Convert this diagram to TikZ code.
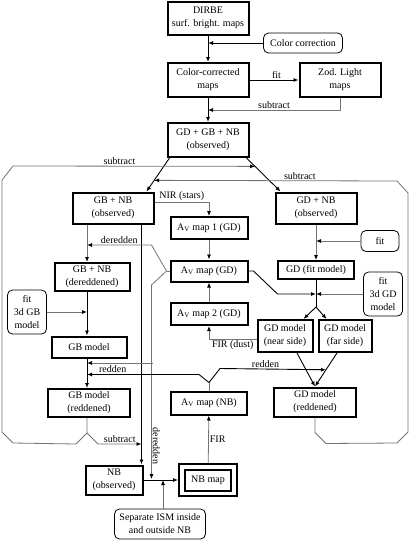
\documentclass[tikz,border=0pt]{standalone}
\usepackage{fontspec}
\setmainfont{Liberation Serif}
\usetikzlibrary{shapes,arrows.meta,calc}
\tikzstyle{block} = [draw, rectangle, line width=2pt, align=center, inner sep=1pt, font=\fontsize{10}{13}\selectfont]
\tikzstyle{note} = [draw, rectangle, rounded corners=5pt, line width=0.8pt, align=center, inner sep=1pt, font=\fontsize{10}{13}\selectfont]
\tikzstyle{flow} = [draw, line width=0.9pt]
\tikzstyle{thin} = [draw, black!55, line width=0.8pt]
\tikzstyle{lbl} = [inner sep=1pt, text=black, font=\fontsize{10}{12}\selectfont]
\newcommand*{\Av}{A\textsubscript{V}}

\begin{document}
\begin{tikzpicture}[x=1pt, y=-1pt, node distance=60pt, >={Latex[length=5pt,width=4pt,black]}]
  \useasboundingbox (0,0) rectangle (410,541);
  % top column
  \node [block, minimum width=81pt, minimum height=33pt] (dirbe) at (208,18) {DIRBE\\surf. bright. maps};
  \node [block, minimum width=81pt, minimum height=34pt, below of=dirbe, node distance=62pt] (ccmaps) {Color-corrected\\maps};
  \node [block, minimum width=81pt, minimum height=34pt, right of=ccmaps, node distance=132pt] (zod) {Zod. Light\\maps};
  \node [block, minimum width=81pt, minimum height=34pt, below of=ccmaps] (gdgbnb) {GD + GB + NB\\(observed)};
  \node [note, minimum width=79pt, minimum height=20pt] (colcor) at (303,43) {Color correction};

  % second level
  \node [block, minimum width=81pt, minimum height=31pt] (gbnb) at (113,208) {GB + NB\\(observed)};
  \node [block, minimum width=81pt, minimum height=31pt] (gdnb) at (316,208) {GD + NB\\(observed)};

  % A_V maps
  \node [block, minimum width=77pt, minimum height=22pt] (av1) at (209,228) {\Av{} map 1 (GD)};
  \node [block, minimum width=77pt, minimum height=21pt, below of=av1, node distance=43pt] (avgd) {\Av{} map (GD)};
  \node [block, minimum width=77pt, minimum height=22pt, below of=avgd, node distance=43pt] (av2) {\Av{} map 2 (GD)};
  \node [block, minimum width=76pt, minimum height=23pt] (avnb) at (209,403) {\Av{} map (NB)};

  % GB column
  \node [block, minimum width=75pt, minimum height=28pt] (gbnbd) at (92,277) {GB + NB\\(dereddened)};
  \node [block, minimum width=75pt, minimum height=21pt] (gbmod) at (89,347) {GB model};
  \node [block, minimum width=82pt, minimum height=28pt, below of=gbmod, node distance=56pt] (gbred) {GB model\\(reddened)};
  \node [note, minimum width=39pt, minimum height=44pt] (fitgb) at (27,312) {fit\\3d GB\\model};

  % GD column
  \node [block, minimum width=76pt, minimum height=18pt, below of=gdnb, node distance=62pt] (gdfit) {GD (fit model)};
  \node [note, minimum width=38pt, minimum height=21pt] (fit) at (380,241) {fit};
  \node [note, minimum width=39pt, minimum height=44pt] (fitgd) at (383,294) {fit\\3d GD\\model};
  \node [block, minimum width=55pt, minimum height=32pt] (near) at (285,336) {GD model\\(near side)};
  \node [block, minimum width=53pt, minimum height=32pt, right of=near] (far) {GD model\\(far side)};
  \node [block, minimum width=82pt, minimum height=29pt] (gdred) at (315,402) {GD model\\(reddened)};

  % NB
  \node [block, minimum width=57pt, minimum height=29pt] (nbobs) at (114,480) {NB\\(observed)};
  \node [block, minimum width=46pt, minimum height=21pt] (nbmap) at (208,480) {NB map};
  \node [draw, line width=2pt, minimum width=58pt, minimum height=32pt] (nbbox) at (nbmap) {};
  \node [note, minimum width=91pt, minimum height=30pt] (sep) at (160,524) {Separate ISM inside\\and outside NB};

  % helper points
  \coordinate (gbx) at (87,0);
  \coordinate (dl) at ([xshift=3pt]gdgbnb.south west);
  \coordinate (dr) at ([xshift=-3pt]gdgbnb.south east);
  \coordinate (dle) at ([xshift=-8pt]gbnb.north east);
  \coordinate (dre) at ([xshift=6pt]gdnb.north west);
  \coordinate (vx) at ([xshift=-13pt]gbnb.south east);
  \coordinate (rg) at (153,363);
  \coordinate (fs) at ([xshift=-8pt]far.south);
  \coordinate (sj) at ([xshift=3pt]sep.north);

  % top part
  \draw [->, flow] (dirbe) -- (ccmaps);
  \draw [->, flow] (colcor.west) -- (colcor.west -| dirbe);
  \draw [->, flow] (ccmaps) -- node [lbl, above, pos=0.55] {fit} (zod);
  \draw [->, thin] (zod.south) |- node [lbl, above, pos=0.75] {subtract} ($(ccmaps.south)!0.5!(gdgbnb.north)$);
  \draw [->, flow] (ccmaps) -- (gdgbnb);
  \draw [->, flow] (dl) -- (dle);
  \draw [->, flow] (dr) -- (dre);

  % subtract frames
  \draw [->, thin] (gbx |- gbred.south) -- ++(0,15) coordinate (nl) -- ++(-11,11) -- (13,443) -- (2,432) -- (2,180) -- (13,166)
    -- node [lbl, above, pos=0.44] {subtract} ($(dr)!0.25!(dre)$);
  \draw [->, thin] (nl) -- ++(11,11) coordinate (nb) -- node [lbl, above] {subtract} (nb -| vx);
  \draw [->, thin] (gdred.south) -- ++(0,15) -- ++(11,11) -- (397,443) -- (408,432) -- (408,193) -- (397,181)
    -- node [lbl, above, pos=0.4] {subtract} ($(dl)!0.667!(dle)$);

  % GB + NB branch
  \draw [->, thin] ($(gbnb.east)+(0,-6)$) -| node [lbl, above, pos=0.25] {NIR (stars)} (av1.north);
  \draw [->, thin] (gbx |- gbnb.south) -- (gbx |- gbnbd.north);
  \draw [->, flow] (vx) -- (vx |- nbobs.north);
  \draw [->, thin] (av1) -- (avgd);
  \draw [->, thin] (av2) -- (avgd);
  \coordinate (dj) at ($(avgd.west)+(-3,0)$);
  \draw [thin] (avgd.west) -- (dj);
  \draw [->, thin] (dj) -- ++(-15,-26) coordinate (du) -- node [lbl, above] {deredden} (gbx |- du);
  \draw [->, thin] (dj) -- ++(-15,14) coordinate (dd) -- node [lbl, rotate=-90, anchor=south, pos=0.83] {deredden} ([yshift=1pt]dd |- nbobs.east);
  \draw [->, flow] (gbx |- gbnbd.south) -- (gbx |- gbmod.north);
  \draw [->, thin] (fitgb.east) -- (fitgb.east -| gbx);
  \draw [->, flow] (gbx |- gbmod.south) -- (gbx |- gbred.north);
  \draw [->, thin] (rg) -- (rg -| gbx);

  % GD branch
  \draw [->, thin] (gdnb) -- (gdfit);
  \draw [->, thin] (fit.west) -- (fit.west -| gdfit.north);
  \draw [->, flow] (avgd.east) -- ++(5,0) -- ++(24,23) coordinate (aj) -- (aj -| gdfit.south);
  \draw [->, thin] (fitgd.west) -- (fitgd.west -| gdfit.south);
  \draw [flow] (gdfit.south) -- ++(0,27) coordinate (gj);
  \draw [->, flow] (gj) -- ([xshift=-10pt]near.north east);
  \draw [->, flow] (gj) -- ([xshift=9pt]far.north west);
  \draw [->, thin] ($(near.west)+(0,3)$) -| node [lbl, below, pos=0.25] {FIR (dust)} (av2.south);
  \draw [->, flow] ([xshift=12pt]near.south) -- (gdred.north);
  \draw [->, flow] (fs) -- (gdred.north);

  % NB branch
  \coordinate (ry) at ($(avnb.north)+(0,-8)$);
  \draw [thin] (avnb.north) -- (ry);
  \draw [->, flow] (ry) -- ++(-10,-8) coordinate (rl) -- node [lbl, above, pos=0.77] {redden} (gbx |- rl);
  \draw [->, flow] (ry) -- ++(11,-14) -- node [lbl, above, pos=0.43] {redden} ($(fs)!0.5!(gdred.north)$);
  \draw [->, thin] (nbbox) -- node [lbl, right] {FIR} (avnb);
  \draw [->, flow] (nbobs) -- (nbbox);
  \draw [->, thin] (sj) -- (sj |- nbobs.east);
\end{tikzpicture}
\end{document}
